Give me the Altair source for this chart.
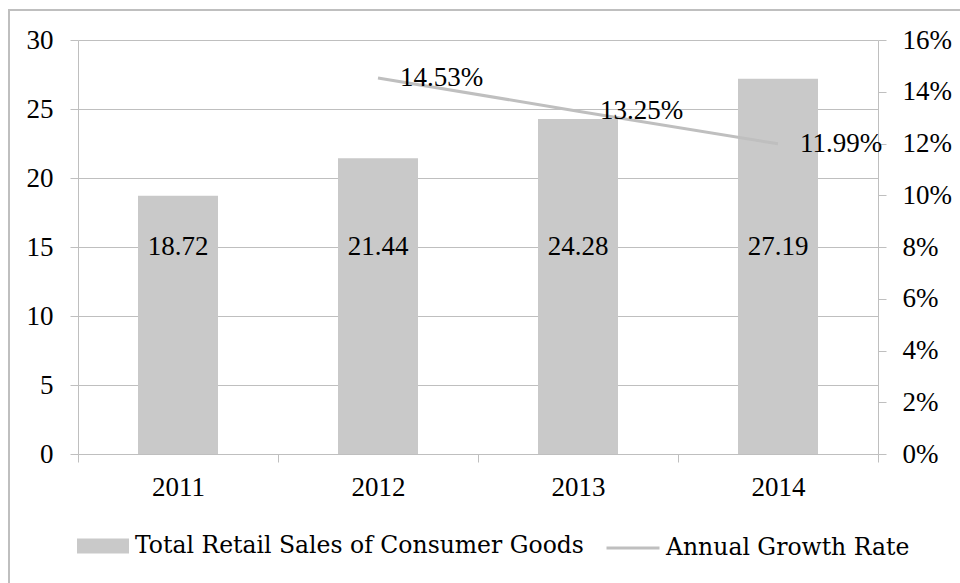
import altair as alt
import pandas as pd

years = ["2011", "2012", "2013", "2014"]
sales = [18.72, 21.44, 24.28, 27.19]
growth = [None, 14.53, 13.25, 11.99]
bar_name = "Total Retail Sales of Consumer Goods"
line_name = "Annual Growth Rate"
left_ticks = [0, 5, 10, 15, 20, 25, 30]
right_ticks = [0, 2, 4, 6, 8, 10, 12, 14, 16]
bar_label_level = 15

df = pd.DataFrame({"year": years, "sales": sales, "growth": growth,
                   "bar_series": [bar_name] * 4, "line_series": [line_name] * 4})

FONT = "Liberation Serif"
LFONT = "DejaVu Serif"
FS = 27
LFS = 23.5
GRAY = "#bfbfbf"
BAR = "#c9c9c9"

x_enc = alt.X("year:N", title=None, sort=years,
              scale=alt.Scale(paddingInner=0, paddingOuter=0),
              axis=alt.Axis(tickBand="extent", labelAngle=0, labelPadding=12,
                            domainColor=GRAY, tickColor=GRAY, tickSize=8))

base = alt.Chart(df)

bars = base.mark_bar(width=alt.RelativeBandSize(0.4), color=BAR).encode(
    x=x_enc,
    y=alt.Y("sales:Q", title=None, scale=alt.Scale(domain=[0, 30], nice=False),
            axis=alt.Axis(values=left_ticks, orient="left", labelPadding=17,
                          grid=True, gridColor=GRAY, domainColor=GRAY,
                          tickColor=GRAY, tickSize=8)),
    fill=alt.Fill("bar_series:N", scale=alt.Scale(domain=[bar_name], range=[BAR]),
                  legend=alt.Legend(title=None, orient="none", legendX=-1, legendY=480,
                                    symbolType="M-1,-0.29L1,-0.29L1,0.29L-1,0.29Z",
                                    symbolSize=2704, symbolStrokeWidth=0,
                                    labelFont=LFONT, labelFontSize=LFS, labelColor="black",
                                    labelOffset=6, labelLimit=0, padding=0)),
)

bar_text = base.mark_text(font=FONT, fontSize=FS, color="black", baseline="middle").encode(
    x=alt.X("year:N", sort=years),
    y=alt.datum(bar_label_level),
    text=alt.Text("sales:Q", format=".2f"),
)

left = alt.layer(bars, bar_text)

line_base = base.transform_filter("isValid(datum.growth)").transform_calculate(
    glabel="format(datum.growth, '.2f') + '%'")

line = line_base.mark_line(strokeWidth=3, color=GRAY).encode(
    x=alt.X("year:N", sort=years),
    y=alt.Y("growth:Q", title=None, scale=alt.Scale(domain=[0, 16], nice=False),
            axis=alt.Axis(values=right_ticks, orient="right", labelExpr="datum.value + '%'",
                          labelPadding=16, grid=False, domainColor=GRAY,
                          tickColor=GRAY, tickSize=8)),
    stroke=alt.Stroke("line_series:N", scale=alt.Scale(domain=[line_name], range=[GRAY]),
                      legend=alt.Legend(title=None, orient="none", legendX=527, legendY=480,
                                        symbolType="stroke", symbolSize=2809,
                                        symbolStrokeWidth=3, labelFont=LFONT,
                                        labelFontSize=LFS, labelColor="black",
                                        labelOffset=5, labelLimit=0, padding=0)),
)

line_text = line_base.mark_text(font=FONT, fontSize=FS, color="black", align="left",
                                baseline="middle", dx=22).encode(
    x=alt.X("year:N", sort=years),
    y=alt.Y("growth:Q", scale=alt.Scale(domain=[0, 16], nice=False)),
    text="glabel:N",
)

right = alt.layer(line, line_text)

border = alt.Chart(pd.DataFrame({"a": [0]})).mark_rect(
    fill=None, stroke=GRAY, strokeWidth=2).encode(
    x=alt.value(-69), x2=alt.value(960), y=alt.value(-30), y2=alt.value(600))

chart = alt.layer(border, left, right).resolve_scale(
    y="independent", fill="independent", stroke="independent"
).properties(
    width=800, height=414,
    autosize=alt.AutoSizeParams(type="none"),
    padding={"left": 78, "top": 40, "right": 82, "bottom": 129},
).configure_axis(
    labelFont=FONT, labelFontSize=FS, labelColor="black"
).configure_view(stroke=None)

chart.save("out.html", embed_options={"renderer": "svg", "actions": False})
